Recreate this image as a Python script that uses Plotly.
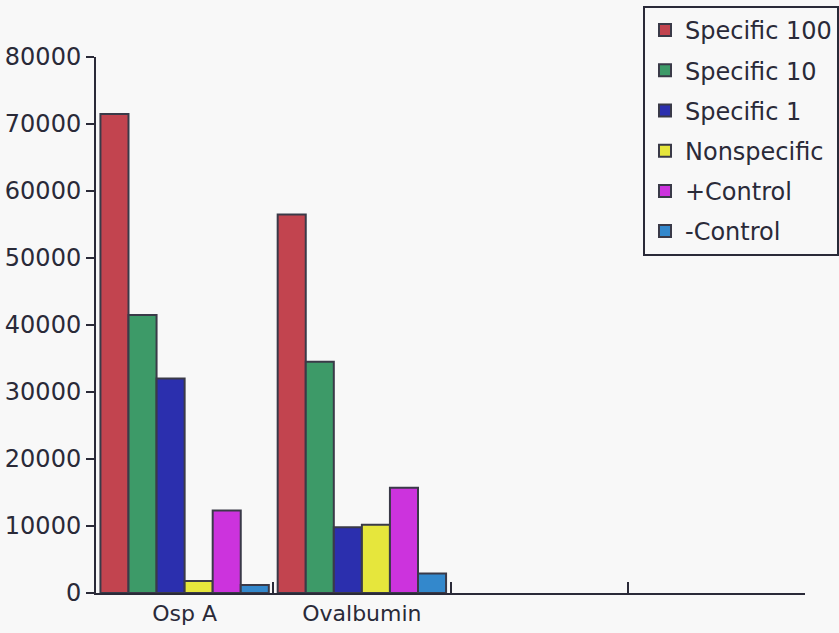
import plotly.graph_objects as go

# Antibody binding signal per antigen
categories = ["Osp A", "Ovalbumin", " ", "  "]
series_names = ["Specific 100", "Specific 10", "Specific 1", "Nonspecific", "+Control", "-Control"]
osp_a = [71500, 41500, 32000, 1800, 12300, 1200]
ovalbumin = [56500, 34500, 9800, 10200, 15700, 2900]
y_ticks = [0, 10000, 20000, 30000, 40000, 50000, 60000, 70000, 80000]

colors = ["#c2444f", "#3d9a68", "#2b2fae", "#e6e63c", "#cc33dd", "#3388cc"]

fig = go.Figure()
for i, name in enumerate(series_names):
    fig.add_trace(go.Bar(
        x=categories[:2],
        y=[osp_a[i], ovalbumin[i]],
        name=name,
        legendgroup=name,
        marker=dict(color=colors[i], line=dict(color="#3a3a48", width=2)),
    ))

font = "DejaVu Sans"
fig.update_layout(
    width=839, height=633,
    margin=dict(l=96, r=34, t=57, b=40, autoexpand=False),
    paper_bgcolor="#f8f8f8",
    plot_bgcolor="#f8f8f8",
    barmode="group",
    bargap=0.05,
    bargroupgap=0,
    showlegend=True,
    font=dict(family=font, size=23, color="#2a2a38"),
    legend=dict(
        x=1 + 34 / 709, xanchor="right",
        y=1 + 51 / 536, yanchor="top",
        bgcolor="#f8f8f8",
        bordercolor="#2a2a38", borderwidth=2,
        font=dict(family=font, size=24, color="#2a2a38"),
        tracegroupgap=6,
        itemwidth=30,
    ),
    xaxis=dict(
        type="category",
        categoryorder="array",
        categoryarray=categories,
        range=[-0.5, 3.5],
        tickson="boundaries",
        ticks="inside",
        ticklen=11,
        tickwidth=2,
        tickcolor="#2a2a38",
        showline=True, linecolor="#2a2a38", linewidth=2,
        showgrid=False, zeroline=False,
        automargin=False,
        tickfont=dict(family=font, size=22, color="#2a2a38"),
    ),
    yaxis=dict(
        range=[0, 80000],
        tickvals=y_ticks,
        ticktext=[str(v) for v in y_ticks],
        ticks="outside",
        ticklen=8,
        tickwidth=2,
        tickcolor="#2a2a38",
        showline=True, linecolor="#2a2a38", linewidth=2,
        showgrid=False, zeroline=False,
        automargin=False,
        tickfont=dict(family=font, size=24, color="#2a2a38"),
    ),
)

fig.write_html("out.html")
